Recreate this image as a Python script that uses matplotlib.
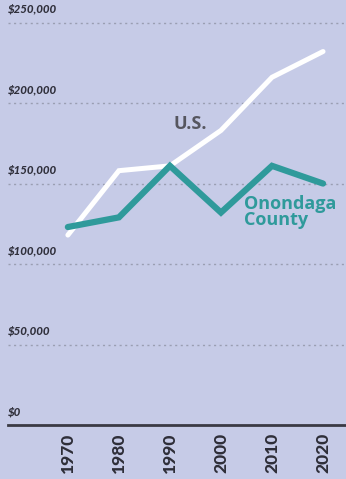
import matplotlib.pyplot as plt

years = [1970, 1980, 1990, 2000, 2010, 2020]
us_income = [118000, 158000, 161000, 183000, 216000, 232000]
onondaga_income = [123000, 129000, 161000, 132000, 161000, 150000]
y_ticks = [0, 50000, 100000, 150000, 200000, 250000]
y_tick_labels = ['$0', '$50,000', '$100,000', '$150,000', '$200,000', '$250,000']

bg = '#c6cbe7'
teal = '#2f9a9b'
gray_text = '#56565f'

fig = plt.figure(figsize=(3.46, 4.79), dpi=100, facecolor=bg)
ax = fig.add_axes([0, 0, 1, 1])
ax.set_facecolor(bg)
ax.set_xlim(1956.7, 2024.5)
ax.set_ylim(-33500, 264000)
for s in ax.spines.values():
    s.set_visible(False)
ax.set_xticks([])
ax.set_yticks([])

# dotted gridlines with labels sitting above them
left = 8 / 346
for val, lab in zip(y_ticks, y_tick_labels):
    if val == 0:
        ax.axhline(val, xmin=left, xmax=1, color='#3a3a44', lw=2.0, zorder=1)
    else:
        ax.axhline(val, xmin=left, xmax=1, color='#9a9eb2', lw=1.0,
                   linestyle=(0, (1.5, 2.5)), zorder=1)
    ax.text(left, val + 5000, lab, transform=ax.get_yaxis_transform(),
            ha='left', va='bottom', fontsize=8.3, fontweight='black',
            fontstyle='italic', family='Lato', color='#30303c')

# lines
ax.plot(years, us_income, color='white', lw=3.6, solid_capstyle='round',
        solid_joinstyle='miter', zorder=3)
ax.plot(years, onondaga_income, color=teal, lw=4.5, solid_capstyle='round',
        solid_joinstyle='miter', zorder=4)

# year labels under the baseline
for yr in years:
    ax.text(yr, -5000, str(yr), rotation=90, ha='center', va='top',
            fontsize=12.5, fontweight='black', family='Lato', color='#2e2e38')

# series labels
ax.text(1990.7, 187000, 'U.S.', ha='left', va='center', fontsize=13,
        fontweight='bold', family='Open Sans', color=gray_text)
ax.text(2004.5, 143000, 'Onondaga\nCounty', ha='left', va='top', fontsize=13,
        fontweight='bold', family='Open Sans', color=teal, linespacing=0.9)

fig.savefig('out.png', dpi=100, facecolor=bg)
